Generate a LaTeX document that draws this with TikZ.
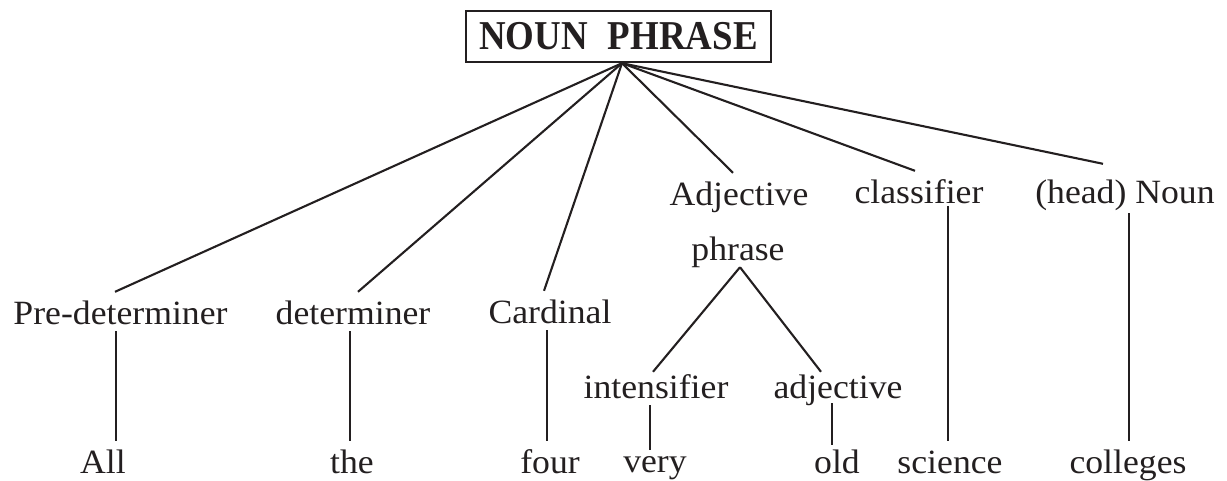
\documentclass[tikz,border=0pt]{standalone}
\usepackage{fontspec}
\setmainfont{Liberation Serif}[FakeStretch=1.05]
\newfontfamily\titlefont{Liberation Serif}[FakeStretch=0.9]
\definecolor{ink}{RGB}{35,31,32}
\begin{document}
\begin{tikzpicture}[x=1pt,y=-1pt,
  word/.style={font=\fontsize{34}{38}\selectfont, text=ink, anchor=base,
    inner xsep=0pt, inner ysep=7pt, text height=25pt, text depth=0pt},
  titlebox/.style={draw=ink, line width=2.4pt, text=ink, inner sep=0pt,
    minimum width=305pt, minimum height=51pt,
    font=\titlefont\bfseries\fontsize{41}{44}\selectfont},
  link/.style={draw=ink, line width=2.1pt}]
\useasboundingbox (0,0) rectangle (1227,480);

% title
\node[titlebox] (np) at (618.5,36.5) {NOUN\hspace{20pt}PHRASE};

% first level
\node[word] (pd)   at (120.5,324) {Pre-determiner};
\node[word] (det)  at (353,324)   {determiner};
\node[word] (card) at (550,323)   {Cardinal};
\node[word] (adj)  at (739,205)   {Adjective};
\node[word] (phr)  at (738,260)   {phrase};
\node[word] (cls)  at (919,203)   {classifier};
\node[word] (head) at (1125,203)  {(head) Noun};

% adjective phrase level
\node[word] (int)  at (656,398)   {intensifier};
\node[word] (adjv) at (838,398)   {adjective};

% bottom words
\node[word] (all)  at (103,473)   {All};
\node[word] (the)  at (352,473)   {the};
\node[word] (four) at (550,473)   {four};
\node[word] (very) at (655,472)   {very};
\node[word] (old)  at (837,473)   {old};
\node[word] (sci)  at (950,473)   {science};
\node[word] (col)  at (1128,473)  {colleges};

% connectors from the title
\coordinate (apex) at ([xshift=3.5pt]np.south);
\draw[link] (apex) -- ([xshift=-5.5pt]pd.north);
\draw[link] (apex) -- ([xshift=5pt]det.north);
\draw[link] (apex) -- ([xshift=-6pt]card.north);
\draw[link] (apex) -- ([xshift=-6pt]adj.north);
\draw[link] (apex) -- ([xshift=-4pt]cls.north);
\draw[link] (apex) -- ([xshift=-22pt,yshift=7pt]head.north);

% verticals
\draw[link] ([xshift=-4.5pt]pd.south) -- ([xshift=13pt]all.north);
\draw[link] ([xshift=-3pt]det.south) -- ([xshift=-2pt]the.north);
\draw[link] ([xshift=-3pt]card.south) -- ([xshift=-3pt]four.north);
\draw[link] ([xshift=29pt,yshift=4pt]cls.south) -- ([xshift=-2pt]sci.north);
\draw[link] ([xshift=4pt,yshift=-3pt]head.south) -- ([xshift=1pt]col.north);

% adjective phrase subtree
\draw[link] ([xshift=2pt]phr.south) -- ([xshift=-3pt,yshift=-6pt]int.north);
\draw[link] ([xshift=2pt]phr.south) -- ([xshift=-17pt,yshift=-6pt]adjv.north);
\draw[link] ([xshift=-6pt]int.south) -- ([xshift=-5pt,yshift=-10pt]very.north);
\draw[link] ([xshift=-6pt,yshift=2pt]adjv.south) -- ([xshift=-5pt,yshift=-4pt]old.north);
\end{tikzpicture}
\end{document}
